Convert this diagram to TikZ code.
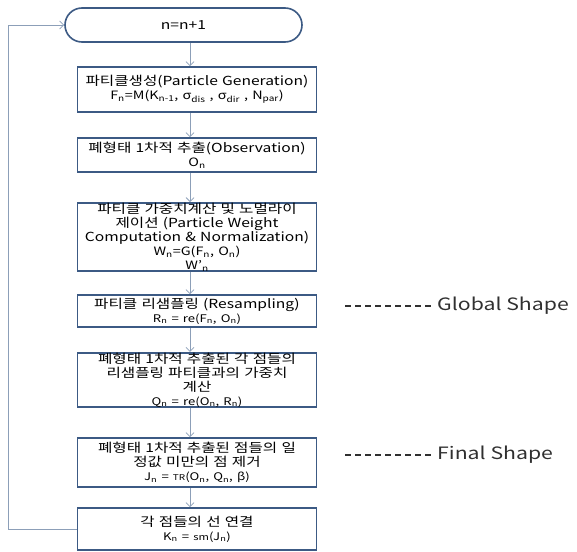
\documentclass[tikz,border=0pt]{standalone}
\usepackage{fontspec}
\setmainfont[FakeStretch=1.25]{Noto Sans CJK KR}
\usetikzlibrary{arrows.meta}
\definecolor{bordc}{HTML}{3C5A84}
\definecolor{arrc}{HTML}{8C9FB8}
\definecolor{dashc}{HTML}{303030}
\newcommand\sbs[1]{\textsubscript{#1}}
\tikzset{
  box/.style={draw=bordc, line width=1.6pt, fill=white, minimum width=239pt,
    text width=237pt, align=center, inner sep=0pt,
    font=\fontsize{12.5}{14}\selectfont},
  term/.style={draw=bordc, line width=1.6pt, fill=white, rounded corners=17pt,
    minimum width=237pt, minimum height=34pt, inner sep=0pt,
    font=\fontsize{12.5}{14}\selectfont},
  arr/.style={draw=arrc, line width=0.8pt, -{Straight Barb[length=4pt,width=8pt]}},
  dashline/.style={draw=dashc, line width=1.4pt, dash pattern=on 6pt off 4pt},
  side/.style={anchor=west, inner sep=0pt, text=dashc, font=\fontsize{17}{19}\selectfont}
}
\begin{document}
\begin{tikzpicture}[x=1pt,y=-1pt]
\useasboundingbox (0,0) rectangle (577,551);
\node[term] (t) at (183.5,25) {n=n+1};
\node[box, minimum height=45pt] (b1) at (197,89.5) {파티클생성(Particle Generation)\\
  {\fontsize{11.5}{13}\selectfont F\sbs{n}=M(K\sbs{n-1}, σ\sbs{dis} , σ\sbs{dir} , N\sbs{par})}};
\node[box, minimum height=34pt] (b2) at (197,155) {폐형태 1차적 추출(Observation)\\
  {\fontsize{11.5}{13}\selectfont O\sbs{n}}};
\node[box, minimum height=68pt] (b3) at (197,237) {파티클 가중치계산 및 노멀라이\\
  제이션 (Particle Weight\\Computation \& Normalization)\\
  {\fontsize{11.5}{14}\selectfont W\sbs{n}=G(F\sbs{n}, O\sbs{n})}\\
  {\fontsize{11.5}{14}\selectfont W'\sbs{n}}};
\node[box, minimum height=32pt] (b4) at (197,311) {파티클 리샘플링 (Resampling)\\
  {\fontsize{10.5}{13}\selectfont R\sbs{n} = re(F\sbs{n}, O\sbs{n})}};
\node[box, minimum height=54pt] (b5) at (197,380) {폐형태 1차적 추출된 각 점들의\\
  리샘플링 파티클과의 가중치\\계산\\
  {\fontsize{10.5}{13}\selectfont Q\sbs{n} = re(O\sbs{n}, R\sbs{n})}};
\node[box, minimum height=49pt] (b6) at (197,462.5) {폐형태 1차적 추출된 점들의 일\\
  정값 미만의 점 제거\\
  {\fontsize{10.5}{13}\selectfont J\sbs{n} = {\fontsize{8}{10}\selectfont TR}(O\sbs{n}, Q\sbs{n}, β)}};
\node[box, minimum height=42pt] (b7) at (197,529) {각 점들의 선 연결\\
  {\fontsize{10.5}{13}\selectfont K\sbs{n} = {\fontsize{9}{10}\selectfont sm}(J\sbs{n})}};
\coordinate (ax) at (190,0);
\coordinate (lp) at (8,0);
\draw[arr] (t.south -| ax) -- (b1.north -| ax);
\draw[arr] (b1.south -| ax) -- (b2.north -| ax);
\draw[arr] (b2.south -| ax) -- (b3.north -| ax);
\draw[arr] (b3.south -| ax) -- (b4.north -| ax);
\draw[arr] (b4.south -| ax) -- (b5.north -| ax);
\draw[arr] (b5.south -| ax) -- (b6.north -| ax);
\draw[arr] (b6.south -| ax) -- (b7.north -| ax);
\draw[arr] (b7.west) -- (b7.west -| lp) |- (t.west);
\node[side] (gs) at (437,306) {Global Shape};
\coordinate (g1) at (345,306);
\draw[dashline] (g1) -- ([xshift=-6pt]gs.west);
\node[side] (fs) at (437,455) {Final Shape};
\coordinate (f1) at (345,455);
\draw[dashline] (f1) -- ([xshift=-6pt]fs.west);
\end{tikzpicture}
\end{document}
